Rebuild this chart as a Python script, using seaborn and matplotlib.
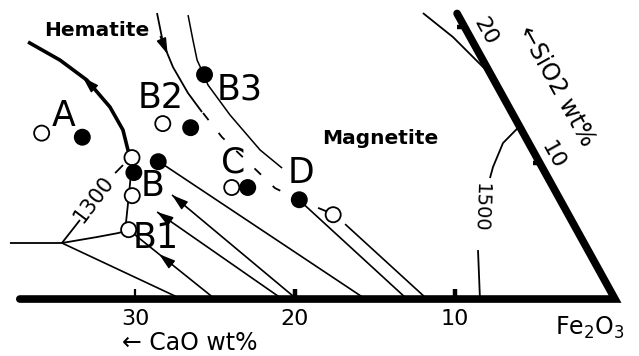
import matplotlib
matplotlib.use("Agg")
import numpy as np
import pandas as pd
import matplotlib.pyplot as plt
import seaborn as sns

# ---------------- data: compositions in wt% CaO / wt% SiO2 (rest Fe2O3) ----------------
pt_name = ['A', 'A', 'B2', 'B2', 'B3', 'B', 'B', 'B', 'B', 'B1', 'C', 'C', 'D', 'D']
pt_kind = ['open', 'filled', 'open', 'filled', 'filled', 'open', 'filled', 'filled',
           'open', 'open', 'open', 'filled', 'filled', 'open']
pt_cao = [30.1, 27.7, 22.2, 20.6, 17.9, 25.3, 25.7, 23.8, 26.6, 28.0, 20.1, 19.1, 16.3, 14.7]
pt_sio2 = [12.2, 11.9, 12.9, 12.6, 16.5, 10.4, 9.3, 10.1, 7.6, 5.1, 8.2, 8.2, 7.3, 6.2]

# diagram frame (CaO-Fe2O3 base, Fe2O3-SiO2 side)
frame_cao = [37.2, 0.0, 0.0]
frame_sio2 = [0.0, 0.0, 21.0]
cao_ticks = [30, 20, 10]
sio2_ticks = [10, 20]

# hematite primary field boundary (thick)
hem_cao = [27.80, 26.43, 25.44, 24.93, 24.91, 25.29, 25.28]
hem_sio2 = [18.90, 17.57, 16.10, 14.12, 12.43, 10.96, 10.44]
# boundary continuing down to B1 and to the ternary point
bnd_cao = [25.28, 25.97, 27.20, 27.90, 27.99, 28.78, 30.23, 32.63, 35.88]
bnd_sio2 = [10.44, 9.12, 6.91, 5.66, 5.07, 4.85, 4.56, 4.12, 4.12]
# 1300 isotherm (two pieces around its label)
iso13a_cao = [32.63, 30.71]
iso13a_sio2 = [4.12, 5.81]
iso13b_cao = [26.89, 26.12]
iso13b_sio2 = [9.26, 9.85]
# 1500 isotherm (two pieces around its label)
iso15a_cao = [0.0, 1.61, 3.06, 3.63]
iso15a_sio2 = [12.7, 11.47, 9.71, 8.90]
iso15b_cao = [6.87, 8.44]
iso15b_sio2 = [3.60, 0.0]
# curve with arrow right of Hematite label
hc_cao = [18.74, 19.40, 19.61, 19.57, 19.35]
hc_sio2 = [21.03, 18.82, 17.06, 15.15, 13.75]
# curve through B3
b3c_cao = [16.87, 17.43, 17.86, 17.95, 18.04, 17.70, 17.03, 16.28]
b3c_sio2 = [20.88, 19.04, 17.57, 16.47, 15.74, 13.53, 10.96, 9.63]
# dashed curve through C and D
dash_cao = [19.32, 18.97, 17.42, 16.32, 14.69]
dash_sio2 = [13.68, 11.91, 8.16, 7.28, 6.25]
# upper right boundary meeting the SiO2 side
ur_cao = [2.12, 1.07, 0.23, 0.0]
ur_sio2 = [21.03, 19.26, 17.06, 16.6]
# straight paths to the CaO-Fe2O3 base: (start CaO, start SiO2, end CaO)
path_c0 = [32.63, 27.99, 25.61, 24.09, 23.79, 16.32, 14.28]
path_s0 = [4.12, 5.07, 6.40, 7.65, 10.15, 7.28, 5.51]
path_c1 = [27.1, 25.0, 20.8, 19.9, 15.6, 13.0, 11.75]

K = 0.47  # drawing projection of the SiO2 direction onto the base


def proj(cao, sio2):
    cao = np.asarray(cao, float)
    sio2 = np.asarray(sio2, float)
    return cao + K * sio2, sio2


sns.set_theme(style="white")
plt.rcParams['font.family'] = ['DejaVu Sans']
plt.rcParams['text.color'] = 'black'

fig = plt.figure(figsize=(6.39, 3.56), dpi=100)
ax = fig.add_axes([0, 0, 1, 1])


def line(c, s, lw=1.2, ls='-', **kw):
    x, y = proj(c, s)
    ax.plot(x, y, color='black', lw=lw, ls=ls, solid_capstyle='butt', zorder=2, **kw)


def arrowhead(c_tail, s_tail, c_tip, s_tip):
    xt, yt = proj(c_tail, s_tail)
    xh, yh = proj(c_tip, s_tip)
    ax.annotate('', xy=(float(xh), float(yh)), xytext=(float(xt), float(yt)),
                arrowprops=dict(arrowstyle='-|>,head_length=0.9,head_width=0.28',
                                color='black', lw=1.0, shrinkA=0, shrinkB=0,
                                mutation_scale=11), zorder=3)


def pix(px, py):
    return (615 - px) / 16.0, (299 - py) / 13.6


# frame
fx, fy = proj(frame_cao, frame_sio2)
ax.plot(fx, fy, color='black', lw=5.5, solid_joinstyle='miter', solid_capstyle='round', zorder=3)
for t in cao_ticks:
    x, _ = proj(t, 0)
    ax.plot([x, x], [0, 0.75], color='black', lw=1.6 if t == 30 else 3.2,
            solid_capstyle='butt', zorder=3)
    xl, yl = pix(0, 319)
    ax.text(float(x), yl, str(t), ha='center', va='center', fontsize=16, color='black')
for t in sio2_ticks:
    x0, y0 = proj(0, t)
    ax.plot([x0, x0 + 0.45], [y0, y0], color='black', lw=3.2, solid_capstyle='butt', zorder=3)

# curves
line(hem_cao, hem_sio2, lw=2.6)
line(bnd_cao, bnd_sio2, lw=1.3)
line(iso13a_cao, iso13a_sio2, lw=1.3)
line(iso13b_cao, iso13b_sio2, lw=1.3)
line(iso15a_cao, iso15a_sio2, lw=1.3)
line(iso15b_cao, iso15b_sio2, lw=1.3)
line(hc_cao, hc_sio2, lw=1.3)
line(b3c_cao, b3c_sio2, lw=1.1)
line(dash_cao, dash_sio2, lw=1.3, ls=(0, (5, 9)))
line(ur_cao, ur_sio2, lw=1.3)
for c0, s0, c1 in zip(path_c0, path_s0, path_c1):
    line([c0, c1], [s0, 0.0], lw=1.2)

# arrows
arrowhead(25.2, 15.3, 25.6, 16.3)
arrowhead(19.35, 19.3, 19.5, 18.0)
arrowhead(24.09 + 0.1 * (19.9 - 24.09), 7.65 * 0.9, 24.09, 7.65)
arrowhead(25.61 + 0.1 * (20.8 - 25.61), 6.40 * 0.9, 25.61, 6.40)
arrowhead(26.5, 2.53, 26.94, 3.3)

# points
px_, py_ = proj(pt_cao, pt_sio2)
df = pd.DataFrame({'x': px_, 'y': py_, 'kind': pt_kind, 'name': pt_name})
sns.scatterplot(data=df, x='x', y='y', hue='kind', palette={'open': 'white', 'filled': 'black'},
                s=118, edgecolor='black', linewidth=1.3, legend=False, ax=ax, zorder=5)
ax.set_xlim(38.4375, -1.5)
ax.set_ylim(-4.19, 21.99)
ax.axis('off')

# texts
big = dict(fontsize=25, ha='center', va='center', zorder=6, color='black')
for name, (qx, qy) in {'A': (64, 116), 'B2': (161, 98), 'B3': (240, 89), 'B': (153, 186),
                       'B1': (156, 238), 'C': (233, 162), 'D': (301, 173)}.items():
    ax.text(*pix(qx, qy), name, **big)

ax.text(*pix(97, 30), 'Hematite', fontsize=14.5, fontweight='bold', ha='center', va='center',
        color='black')
ax.text(*pix(380, 138), 'Magnetite', fontsize=14.5, fontweight='bold', ha='center', va='center',
        color='black')
ax.text(*pix(94, 199), '1300', fontsize=15, rotation=53, ha='center', va='center',
        rotation_mode='anchor', color='black')
ax.text(*pix(481, 208), '1500', fontsize=14, rotation=-92, ha='center', va='center',
        rotation_mode='anchor', color='black')
ax.text(*pix(190, 343), '\u2190 CaO wt%', fontsize=17, ha='center', va='center', color='black')
ax.text(*pix(590, 328), 'Fe$_2$O$_3$', fontsize=17, ha='center', va='center', color='black')
ax.text(*pix(557, 86), '\u2190SiO2 wt%', fontsize=17, rotation=-61, ha='center', va='center',
        rotation_mode='anchor', color='black')
ax.text(*pix(486, 31), '20', fontsize=16, rotation=-61, ha='center', va='center',
        rotation_mode='anchor', color='black')
ax.text(*pix(553, 155), '10', fontsize=16, rotation=-61, ha='center', va='center',
        rotation_mode='anchor', color='black')

fig.savefig('out.png', dpi=100, facecolor='white')
